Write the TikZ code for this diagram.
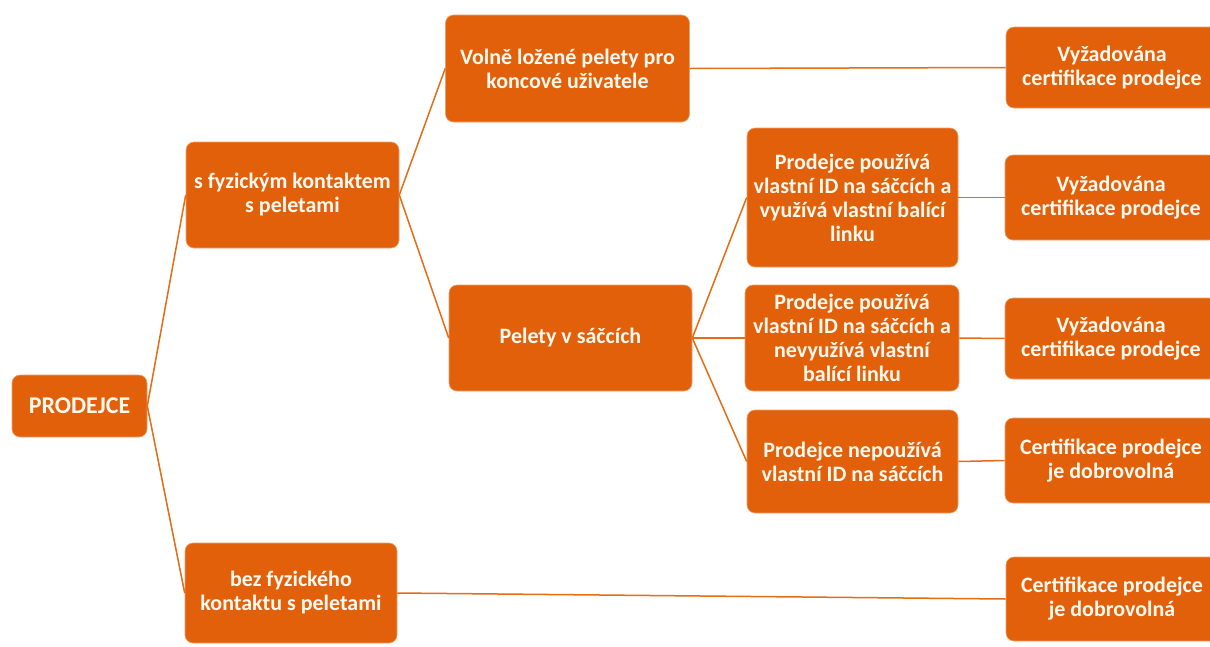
\documentclass[tikz,border=0pt]{standalone}
\usepackage{fontspec}
\setmainfont{Carlito}
\definecolor{boxor}{HTML}{E2600A}
\definecolor{lineor}{HTML}{E46C14}
\definecolor{txt}{HTML}{FFF9F0}
\begin{document}
\begin{tikzpicture}[x=1pt,y=-1pt,
  box/.style={draw=boxor!60!white, line width=0.6pt, fill=boxor, rounded corners=8pt,
    text=txt, font=\fontsize{22}{24}\selectfont\bfseries, align=center,
    inner sep=0pt, anchor=center},
  conn/.style={draw=lineor, line width=1.5pt}]
\useasboundingbox (0,0) rectangle (1210,646);
\node[box, minimum width=135pt, minimum height=62pt, font=\fontsize{24}{26}\selectfont\bfseries] (p) at (79.5,406) {PRODEJCE};
\node[box, minimum width=213pt, minimum height=106pt] (s1) at (292.5,195) {s fyzickým kontaktem\\s peletami};
\node[box, minimum width=212pt, minimum height=100pt] (s2) at (291,593) {bez fyzického\\kontaktu s peletami};
\node[box, minimum width=244pt, minimum height=107pt] (v1) at (567.5,68.5) {Volně ložené pelety pro\\koncové uživatele};
\node[box, minimum width=243pt, minimum height=106pt] (v2) at (570.5,338) {Pelety v sáčcích};
\node[box, minimum width=211pt, minimum height=139pt] (a1) at (852.5,197.5) {Prodejce používá\\vlastní ID na sáčcích a\\využívá vlastní balící\\linku};
\node[box, minimum width=214pt, minimum height=106pt] (a2) at (852,338) {Prodejce používá\\vlastní ID na sáčcích a\\nevyužívá vlastní\\balící linku};
\node[box, minimum width=211pt, minimum height=103pt] (a3) at (852.5,461.5) {Prodejce nepoužívá\\vlastní ID na sáčcích};
\node[box, minimum width=212pt, minimum height=81pt] (r1) at (1112,67.5) {Vyžadována\\certifikace prodejce};
\node[box, minimum width=212pt, minimum height=85pt] (r2) at (1111,197.5) {Vyžadována\\certifikace prodejce};
\node[box, minimum width=212pt, minimum height=81pt] (r3) at (1111,338.5) {Vyžadována\\certifikace prodejce};
\node[box, minimum width=212pt, minimum height=85pt] (r4) at (1111,460.5) {Certifikace prodejce\\je dobrovolná};
\node[box, minimum width=212pt, minimum height=84pt] (r5) at (1112,599) {Certifikace prodejce\\je dobrovolná};
\draw[conn] (p.east) -- (s1.west);
\draw[conn] (p.east) -- (s2.west);
\draw[conn] (s1.east) -- (v1.west);
\draw[conn] (s1.east) -- (v2.west);
\draw[conn] (v2.east) -- (a1.west);
\draw[conn] (v2.east) -- (a2.west);
\draw[conn] (v2.east) -- (a3.west);
\draw[conn] (v1.east) -- (r1.west);
\draw[conn] (a1.east) -- (r2.west);
\draw[conn] (a2.east) -- (r3.west);
\draw[conn] (a3.east) -- (r4.west);
\draw[conn] (s2.east) -- (r5.west);
\end{tikzpicture}
\end{document}
